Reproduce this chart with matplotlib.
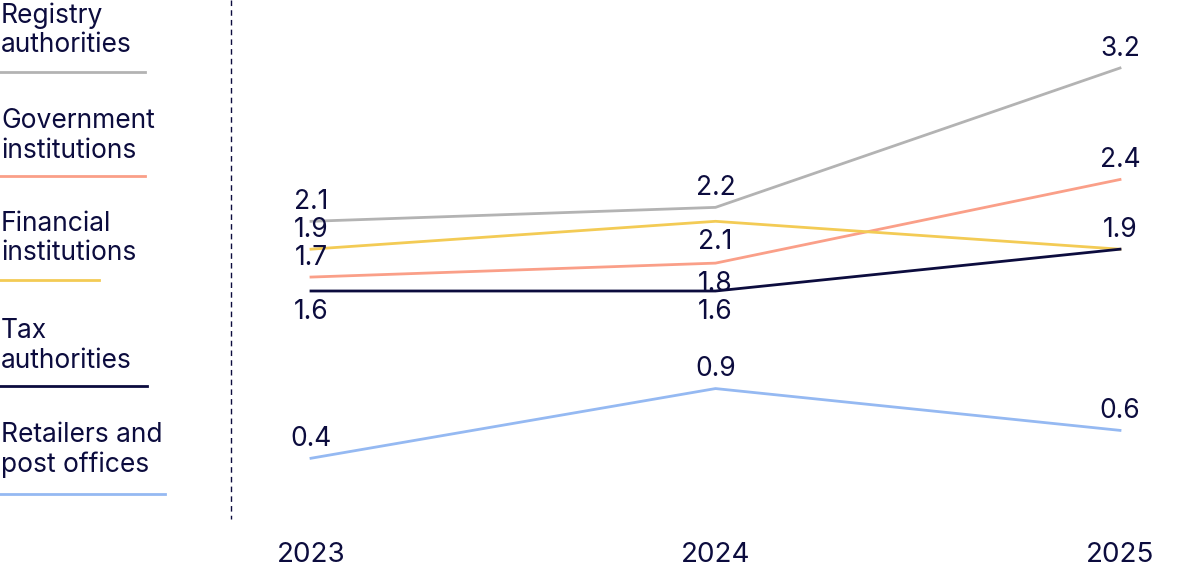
import matplotlib.pyplot as plt
from matplotlib.lines import Line2D

# chart data (values as printed on the chart)
years = ['2023', '2024', '2025']
series_names = ['Registry\nauthorities', 'Government\ninstitutions', 'Financial\ninstitutions',
                'Tax\nauthorities', 'Retailers and\npost offices']
registry = [2.1, 2.2, 3.2]
government = [1.7, 1.8, 2.4]
financial = [1.9, 2.1, 1.9]
tax = [1.6, 1.6, 1.9]
retailers = [0.4, 0.9, 0.6]

series = [registry, government, financial, tax, retailers]
colors = ['#b3b3b3', '#fa9f88', '#f3cb55', '#0c0c3e', '#95b9f2']
navy = '#0c0c3e'
# +1 = label above the point, -1 = below, 0 = no label (shared with another series)
label_side = [[1, 1, 1], [1, -1, 1], [1, -1, 1], [-1, -1, 0], [1, 1, 1]]

W, H = 1200, 572
fig = plt.figure(figsize=(W / 100, H / 100), dpi=100)
plt.rcParams['font.family'] = ['Inter', 'DejaVu Sans']

# plot area: x positions 0..2 -> px 311..1120, value 0..3.2 -> px 514..68 (from top)
ax = fig.add_axes([311 / W, (H - 514) / H, (1120 - 311) / W, (514 - 68) / H])
ax.set_xlim(0, 2)
ax.set_ylim(0, 3.2)
for s in ax.spines.values():
    s.set_visible(False)
ax.set_yticks([])
x = range(len(years))
ax.set_xticks(list(x), years)
ax.tick_params(axis='x', length=0, pad=20, labelsize=20, labelcolor=navy)

for vals, col, sides in zip(series, colors, label_side):
    ax.plot(x, vals, color=col, lw=2, clip_on=False, solid_joinstyle='miter')
    for xi, v, sd in zip(x, vals, sides):
        if sd == 0:
            continue
        off = 14 if sd > 0 else -15
        ax.annotate(f'{v:.1f}', (xi, v), xytext=(0, off), textcoords='offset points',
                    ha='center', va='center', fontsize=19, color=navy, annotation_clip=False)

# dashed separator between legend and chart
fig.add_artist(Line2D([231 / W, 231 / W], [1, (H - 519) / H], color=navy, lw=1,
                      linestyle=(0, (4, 3))))

# legend on the left
first_base = [23, 128, 231, 338, 442]
line_y = [72, 176, 280, 386, 494]
line_len = [145, 145, 99, 147, 165]
for name, col, b, ly, ln in zip(series_names, colors, first_base, line_y, line_len):
    for i, part in enumerate(name.split('\n')):
        fig.text(1 / W, (H - b - 29.5 * i) / H, part, fontsize=19, color=navy,
                 ha='left', va='baseline')
    fig.add_artist(Line2D([0, ln / W], [(H - ly) / H] * 2, color=col, lw=2))

fig.savefig('out.png', dpi=100)
